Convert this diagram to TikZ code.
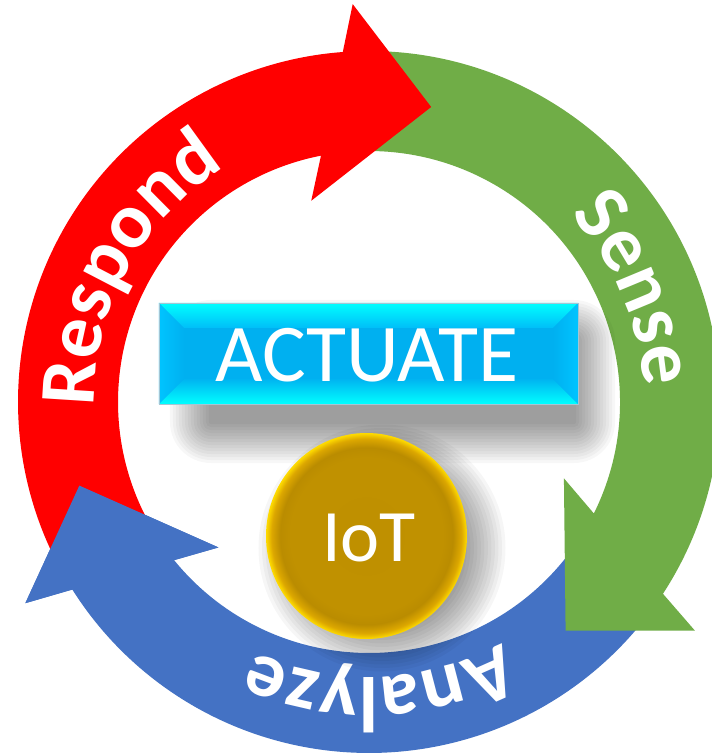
\documentclass[tikz,border=0pt]{standalone}
\usepackage{fontspec}
\setmainfont{Carlito}
\usetikzlibrary{decorations.text}
\definecolor{cRed}{HTML}{FF0000}
\definecolor{cGreen}{HTML}{70AD47}
\definecolor{cBlue}{HTML}{4472C4}
\definecolor{cFace}{HTML}{00B0F0}
\definecolor{cCyan}{HTML}{00FFFF}
\definecolor{cBevTop}{HTML}{00BEF8}
\definecolor{cBevSide}{HTML}{00C4FF}
\definecolor{cGold}{HTML}{BF9000}
\definecolor{cGoldA}{HTML}{C09100}
\definecolor{cGoldB}{HTML}{BA8C00}
\definecolor{cGoldC}{HTML}{DCA700}
\definecolor{cRim}{HTML}{FFDC00}
\pgfdeclareradialshading{goldball}{\pgfpoint{0bp}{0bp}}{color(0bp)=(cGold); color(19bp)=(cGoldA); color(21.5bp)=(cGoldB); color(23.6bp)=(cGoldC); color(25bp)=(cRim); color(50bp)=(cRim)}
\newcommand\ringfont{\bfseries\fontsize{79}{79}\selectfont}
\newcommand\ringarrow[3]{%
  \begin{scope}[rotate=#2]
    \fill[#1] (#3:351) arc[start angle=#3, end angle=16.18, radius=351]
      -- (386,98) -- (301.5,0) -- (185,98) -- (22.93:251)
      arc[start angle=22.93, end angle=#3, radius=251] -- cycle;
  \end{scope}}
\newcommand\ringhead[2]{%
  \begin{scope}[rotate=#2]
    \fill[#1] (386,98) -- (301.5,0) -- (185,98) -- cycle;
  \end{scope}}
\tikzset{
  ringlabel/.style={decorate, decoration={text along path, text={|\ringfont|#1}, text align=center, text color=white}},
  boxtext/.style={text=white, inner sep=0pt, font=\fontsize{82}{82}\selectfont},
  iottext/.style={text=white, inner sep=0pt, font=\fontsize{74}{74}\selectfont}
}
\begin{document}
\begin{tikzpicture}[x=1pt,y=1pt]
\useasboundingbox (-369,-353) rectangle (343,402);
\fill[white] (-369,-353) rectangle (343,402);
% ring arrows
\ringarrow{cBlue}{196.1}{127.5}
\ringarrow{cGreen}{-49.3}{140.3}
\ringarrow{cRed}{78.1}{130.9}
\ringhead{cBlue}{196.1}
% ring labels
\path[ringlabel=Respond] (211.3:275) arc[start angle=211.3, end angle=91.3, radius=275];
\path[ringlabel=Sense] (83.1:275) arc[start angle=83.1, end angle=-36.9, radius=275];
\path[ringlabel=Analyze] (-27.8:275) arc[start angle=-27.8, end angle=-147.8, radius=275];
% box shadow
\foreach \i in {0,...,13}{
  \pgfmathsetmacro\e{-14+3*\i}
  \pgfmathsetmacro\rc{\e+16}
  \fill[black, fill opacity=0.03, rounded corners=\rc pt] (-174-\e,-36-\e) rectangle (221+\e,77+\e);
}
% IoT shadow
\foreach \i in {0,...,11}{
  \pgfmathsetmacro\rr{85+3.5*\i}
  \fill[black, fill opacity=0.035] (13,-146) circle[radius=\rr];
}
% ACTUATE box with bevel
\fill[cFace] (-210,-2) rectangle (209,99);
\shade[top color=cCyan, bottom color=cBevTop] (-210,99) -- (209,99) -- (184,74) -- (-185,74) -- cycle;
\shade[top color=cFace!95!cCyan, bottom color=cCyan] (-210,-2) -- (209,-2) -- (184,23) -- (-185,23) -- cycle;
\shade[left color=cBevSide, right color=cFace] (-210,99) -- (-185,74) -- (-185,23) -- (-210,-2) -- cycle;
\shade[left color=cFace, right color=cBevSide] (209,99) -- (184,74) -- (184,23) -- (209,-2) -- cycle;
\draw[cyan!40!gray!60, line width=0.6pt] (-210,-2) rectangle (209,99);
\node[boxtext, anchor=base] (actuate) at (-2,20.3) {ACTUATE};
% IoT ball
\shade[shading=goldball] (-2.5,-134) ellipse[x radius=100.5, y radius=103];
\node[iottext, anchor=base] (iot) at (0,-159.7) {IoT};
\end{tikzpicture}
\end{document}
